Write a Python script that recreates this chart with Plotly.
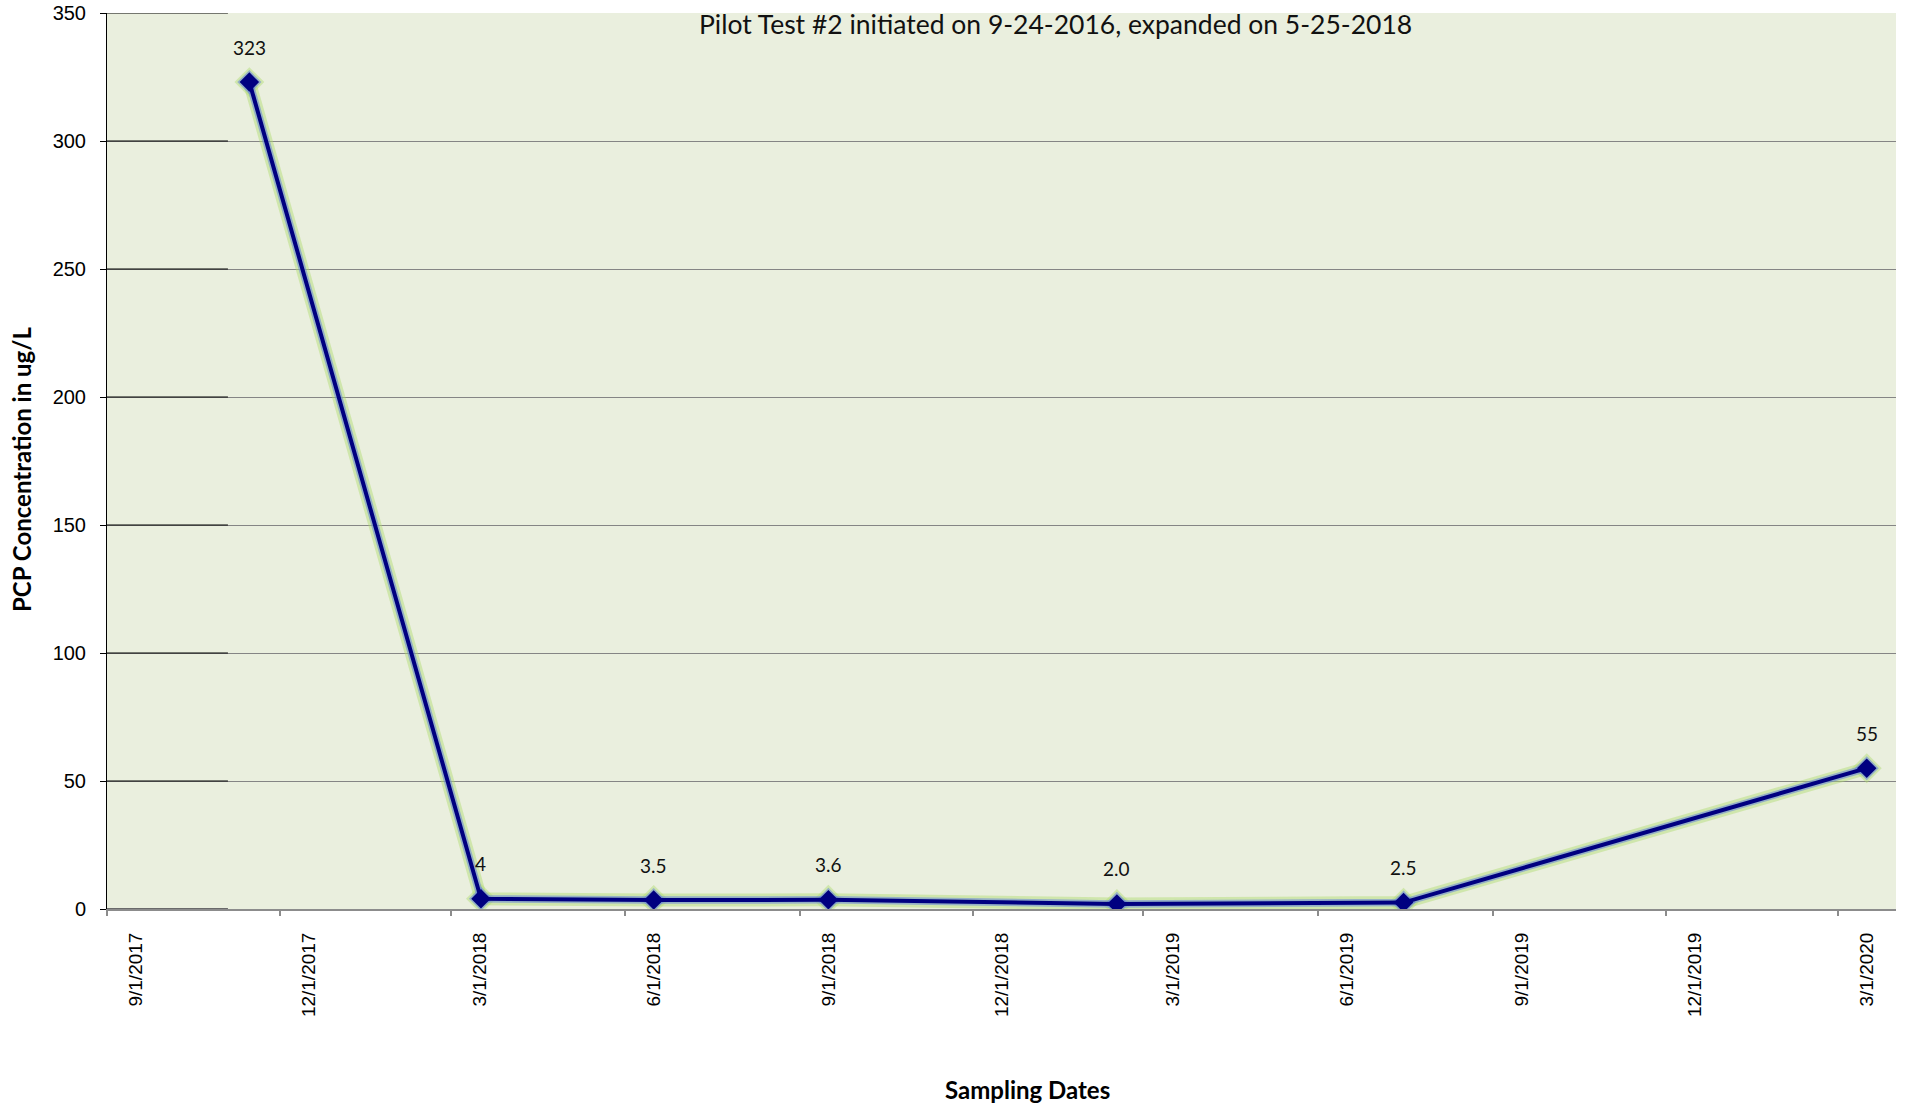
import plotly.graph_objects as go

# ---- data ----
sample_dates = ["2017-11-15", "2018-03-17", "2018-06-16", "2018-09-16",
                "2019-02-15", "2019-07-16", "2020-03-16"]
pcp_values = [323, 4, 3.5, 3.6, 2.0, 2.5, 55]
value_labels = ["323", "4", "3.5", "3.6", "2.0", "2.5", "55"]

x_tick_dates = ["2017-09-01", "2017-12-01", "2018-03-01", "2018-06-01",
                "2018-09-01", "2018-12-01", "2019-03-01", "2019-06-01",
                "2019-09-01", "2019-12-01", "2020-03-01"]
x_tick_labels = ["9/1/2017", "12/1/2017", "3/1/2018", "6/1/2018",
                 "9/1/2018", "12/1/2018", "3/1/2019", "6/1/2019",
                 "9/1/2019", "12/1/2019", "3/1/2020"]
y_ticks = [0, 50, 100, 150, 200, 250, 300, 350]

title_text = "Pilot Test #2 initiated on 9-24-2016, expanded on 5-25-2018"
x_title = "Sampling Dates"
y_title = "PCP Concentration in ug/L"

CAL = "Lato, 'Open Sans', sans-serif"
ARIAL = "Arial, 'Liberation Sans', sans-serif"
NAVY = "#000080"

fig = go.Figure()

# soft glow under the line
fig.add_trace(go.Scatter(
    x=sample_dates, y=pcp_values, mode="lines+markers",
    line=dict(color="rgba(175,220,110,0.45)", width=13),
    marker=dict(symbol="diamond", size=23, color="rgba(175,220,110,0.45)"),
    hoverinfo="skip", showlegend=False))
fig.add_trace(go.Scatter(
    x=sample_dates, y=pcp_values, mode="lines+markers",
    line=dict(color="rgba(100,130,220,0.55)", width=7.5),
    marker=dict(symbol="diamond", size=18.5, color="rgba(100,130,220,0.55)"),
    hoverinfo="skip", showlegend=False))
# main series
fig.add_trace(go.Scatter(
    x=sample_dates, y=pcp_values, mode="lines+markers",
    line=dict(color=NAVY, width=4),
    marker=dict(symbol="diamond", size=15, color=NAVY),
    showlegend=False, name="PCP"))

annotations = []
for d, v, t in zip(sample_dates, pcp_values, value_labels):
    annotations.append(dict(x=d, y=v, xref="x", yref="y", text=t,
                            showarrow=False, yshift=35,
                            font=dict(family=CAL, size=19, color="#111111"),
                            xanchor="center", yanchor="middle"))

annotations.append(dict(x=0.530, y=0.988, xref="paper", yref="paper",
                        text=title_text, showarrow=False,
                        font=dict(family=CAL, size=26.5, color="#111111"),
                        xanchor="center", yanchor="middle"))
annotations.append(dict(x=0.5148, y=-0.202, xref="paper", yref="paper",
                        text="<b>" + x_title + "</b>", showarrow=False,
                        font=dict(family=CAL, size=24, color="#000000"),
                        xanchor="center", yanchor="middle"))
annotations.append(dict(x=-0.0475, y=0.490, xref="paper", yref="paper",
                        text="<b>" + y_title + "</b>", showarrow=False,
                        textangle=-90,
                        font=dict(family=CAL, size=24, color="#000000"),
                        xanchor="center", yanchor="middle"))

shapes = []
# darker left segment of the gridlines
for yv in y_ticks[1:]:
    shapes.append(dict(type="line", xref="paper", yref="y",
                       x0=0, x1=0.0676, y0=yv, y1=yv,
                       line=dict(color="#000000", width=1)))
shapes.append(dict(type="line", xref="paper", yref="y",
                   x0=0, x1=0.0676, y0=0, y1=0,
                   line=dict(color="#6a6a6a", width=2)))

fig.update_layout(
    width=1907, height=1108,
    margin=dict(l=107, r=11, t=13, b=199, pad=0, autoexpand=False),
    paper_bgcolor="#ffffff",
    plot_bgcolor="#EAEFDE",
    annotations=annotations,
    shapes=shapes,
    showlegend=False,
)

fig.update_xaxes(
    type="date", automargin=False,
    range=["2017-09-01", "2020-03-31 10:00"],
    tickmode="array", tickvals=x_tick_dates, ticktext=x_tick_labels,
    tickangle=-90, ticklabelshift=29, ticklabelstandoff=9,
    tickfont=dict(family=ARIAL, size=19, color="#000000"),
    ticks="outside", ticklen=5, tickwidth=2, tickcolor="#8c8c8c",
    showgrid=False, zeroline=False,
    showline=True, linecolor="#8c8c8c", linewidth=2,
)
fig.update_yaxes(
    range=[0, 350], automargin=False,
    tickmode="array", tickvals=y_ticks,
    tickfont=dict(family=ARIAL, size=20, color="#000000"),
    ticks="outside", ticklen=6, tickwidth=1, tickcolor="#000000",
    ticklabelstandoff=10,
    showgrid=True, gridcolor="#858585", gridwidth=1,
    zeroline=False,
    showline=True, linecolor="#000000", linewidth=1,
)

fig.write_html("out.html")
